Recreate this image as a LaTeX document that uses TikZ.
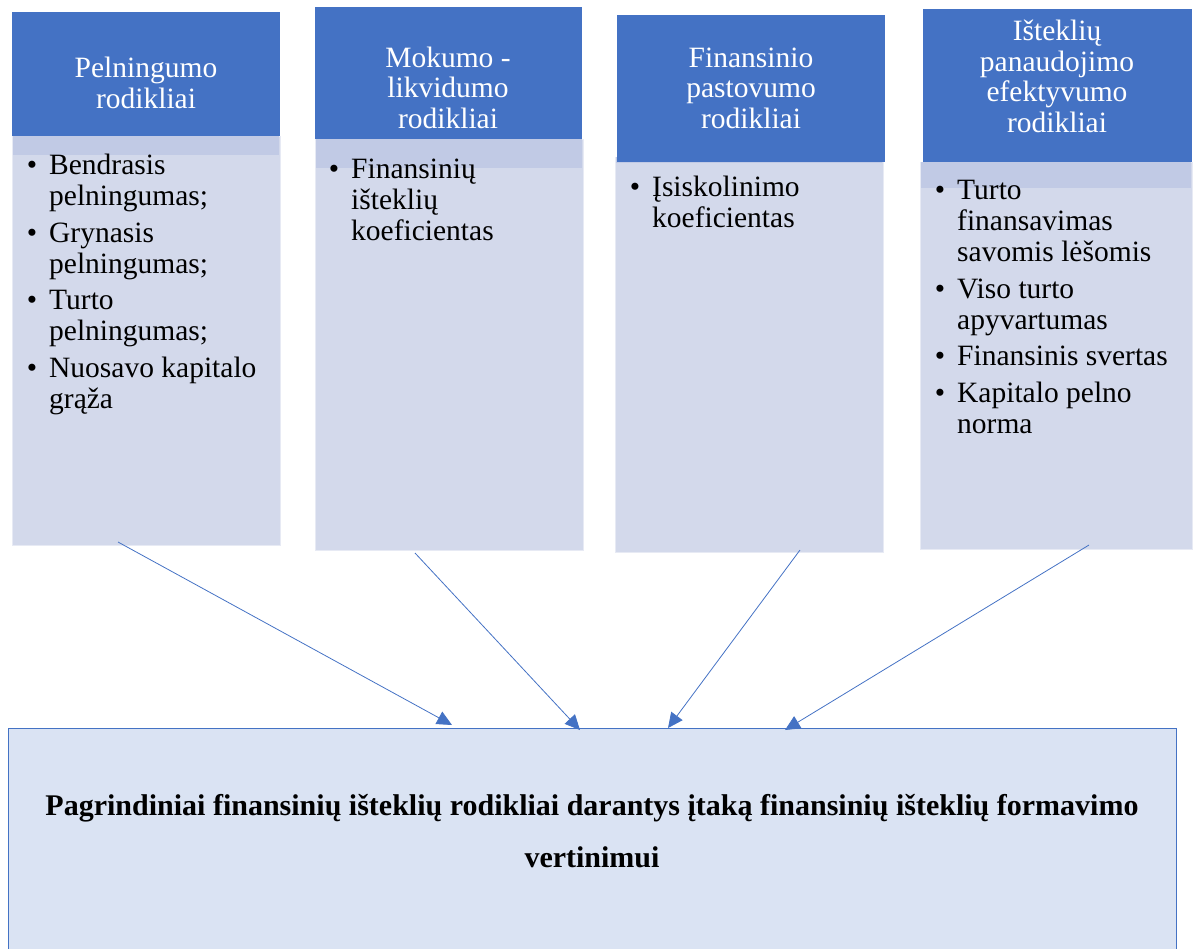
\documentclass[tikz,border=0pt]{standalone}
\usepackage{fontspec}
\setmainfont{Liberation Serif}
\usetikzlibrary{arrows.meta}
\definecolor{hdr}{HTML}{4472C4}
\definecolor{bodyc}{HTML}{D3D9EB}
\definecolor{bandc}{HTML}{C1CAE5}
\definecolor{botc}{HTML}{DAE3F3}
\tikzset{
  hdrbox/.style={fill=hdr, draw=none, inner sep=0pt, anchor=north west},
  bodybox/.style={fill=bodyc, draw=white!45!bodyc, line width=0.9pt, inner sep=0pt, anchor=north west},
  bandbox/.style={fill=bandc, draw=none, inner sep=0pt, anchor=north west},
  hdrtext/.style={text=white, align=center, font=\fontsize{29.5}{30.5}\selectfont, inner sep=0pt, anchor=base},
  listtext/.style={align=left, font=\fontsize{29.5}{31}\selectfont, inner sep=0pt, anchor=base west},
  conn/.style={draw=hdr, line width=0.8pt, -{Triangle[length=15pt,width=14pt]}},
}
\newcommand{\bul}{\llap{\textbullet\hspace{12pt}}}
\begin{document}
\begin{tikzpicture}[x=1pt,y=-1pt]
\useasboundingbox (0,0) rectangle (1194,948);
\clip (0,0) rectangle (1194,948);
% box 1
\node[bodybox, minimum width=268pt, minimum height=409pt] (b1) at (12,136) {};
\node[bandbox, minimum width=266pt, minimum height=19pt] (n1) at (12.5,136) {};
\node[hdrbox, minimum width=268pt, minimum height=124pt] (h1) at (12,12) {};
\node[hdrtext] (t1) at (146,108) {Pelningumo\\rodikliai};
\node[listtext] (l1) at (49,408) {\bul Bendrasis\\pelningumas;\\[5.5pt]\bul Grynasis\\pelningumas;\\[5.5pt]\bul Turto\\pelningumas;\\[5.5pt]\bul Nuosavo kapitalo\\grąža};
% box 2
\node[bodybox, minimum width=268pt, minimum height=411pt] (b2) at (315,139) {};
\node[bandbox, minimum width=266pt, minimum height=29pt] (n2) at (315.5,139) {};
\node[hdrbox, minimum width=267pt, minimum height=132pt] (h2) at (315,7) {};
\node[hdrtext] (t2) at (448,128) {Mokumo -\\likvidumo\\rodikliai};
\node[listtext] (l2) at (351,240) {\bul Finansinių\\išteklių\\koeficientas};
% box 3
\node[bodybox, minimum width=268pt, minimum height=395pt] (b3) at (615,157) {};
\node[bandbox, minimum width=266pt, minimum height=6pt] (n3) at (615.5,157) {};
\node[hdrbox, minimum width=268pt, minimum height=147pt] (h3) at (617,15) {};
\node[hdrtext] (t3) at (751,128) {Finansinio\\pastovumo\\rodikliai};
\node[listtext] (l3) at (652,227) {\bul Įsiskolinimo\\koeficientas};
% box 4
\node[bodybox, minimum width=272pt, minimum height=387pt] (b4) at (920,162) {};
\node[bandbox, minimum width=270pt, minimum height=26pt] (n4) at (920.5,162) {};
\node[hdrbox, minimum width=269pt, minimum height=153pt] (h4) at (923,9) {};
\node[hdrtext] (t4) at (1057,132) {Išteklių\\panaudojimo\\efektyvumo\\rodikliai};
\node[listtext] (l4) at (957,433) {\bul Turto\\finansavimas\\savomis lėšomis\\[6pt]\bul Viso turto\\apyvartumas\\[5pt]\bul Finansinis svertas\\[5.5pt]\bul Kapitalo pelno\\norma};
% bottom box
\node[fill=botc, draw=hdr, line width=0.9pt, inner sep=0pt, anchor=north west, minimum width=1168pt, minimum height=260pt] (bot) at (8,728) {};
\node[align=center, inner sep=0pt, anchor=base, font=\bfseries\fontsize{30}{52}\selectfont] (bt) at (592,867) {Pagrindiniai finansinių išteklių rodikliai darantys įtaką finansinių išteklių formavimo\\vertinimui};
% connectors
\coordinate (s1) at (118,542);
\coordinate (e1) at (452,725);
\coordinate (s2) at (415,553);
\coordinate (e2) at (580,730);
\coordinate (s3) at (800,550);
\coordinate (e3) at (668,728);
\coordinate (s4) at (1089,545);
\coordinate (e4) at (785,730);
\draw[conn] (s1) -- (e1);
\draw[conn] (s2) -- (e2);
\draw[conn] (s3) -- (e3);
\draw[conn] (s4) -- (e4);
\end{tikzpicture}
\end{document}
